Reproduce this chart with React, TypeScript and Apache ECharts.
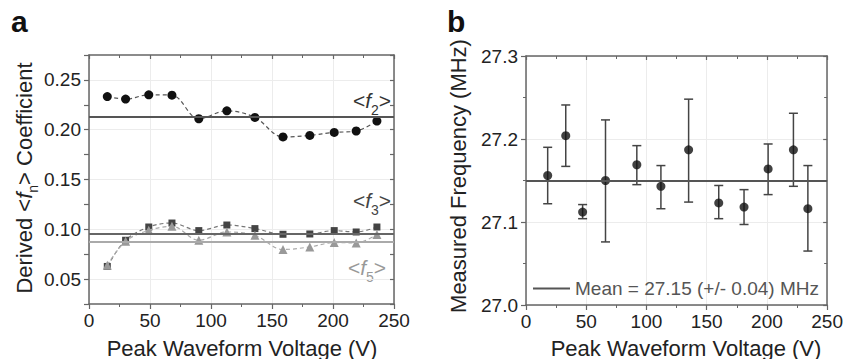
import React, { useEffect, useRef } from 'react';
import * as echarts from 'echarts';

// ---------- Panel a data ----------
const voltA = [15, 30, 49, 68, 90, 113, 136, 159, 181, 201, 219, 236];
const f2 = [0.2333, 0.2307, 0.235, 0.2347, 0.211, 0.219, 0.2123, 0.1927, 0.1943, 0.1973, 0.1987, 0.2087];
const f3 = [0.0627, 0.089, 0.1023, 0.1063, 0.0987, 0.1043, 0.1007, 0.095, 0.0953, 0.0987, 0.0973, 0.1023];
const f5 = [0.064, 0.088, 0.099, 0.103, 0.089, 0.0973, 0.094, 0.0797, 0.0823, 0.0867, 0.0863, 0.0947];
const meanF2 = 0.2133;
const meanF3 = 0.096;
const meanF5 = 0.088;

// ---------- Panel b data ----------
const voltB = [18, 33, 47, 66, 92, 112, 135, 160, 181, 201, 222, 234];
const freqB = [27.156, 27.204, 27.112, 27.15, 27.169, 27.143, 27.187, 27.123, 27.118, 27.164, 27.187, 27.116];
const hiB = [27.19, 27.241, 27.121, 27.223, 27.192, 27.168, 27.248, 27.144, 27.139, 27.194, 27.231, 27.168];
const loB = [27.122, 27.167, 27.104, 27.076, 27.145, 27.116, 27.124, 27.104, 27.097, 27.133, 27.143, 27.065];
const meanB = 27.15;
const meanLabel = 'Mean = 27.15 (+/- 0.04) MHz';

// ---------- Axis labels ----------
const xTitle = 'Peak Waveform Voltage (V)';
const yTitleBText = 'Measured Frequency (MHz)';

const FONT = "'Liberation Sans', Arial, Helvetica, sans-serif";
const FRAME = '#666';
const GRIDC = '#ececec';

function xAxes(gridIndex: number) {
  const common = {
    gridIndex,
    type: 'value',
    min: 0,
    max: 250,
    interval: 50,
  };
  return [
    {
      ...common,
      position: 'bottom',
      axisLine: { show: true, onZero: false, lineStyle: { color: FRAME, width: 1.5 } },
      axisTick: { show: true, length: 5, lineStyle: { color: FRAME, width: 1.2 } },
      minorTick: { show: true, splitNumber: 2, length: 3, lineStyle: { color: FRAME, width: 1 } },
      splitLine: { show: true, lineStyle: { color: GRIDC, width: 1 } },
      axisLabel: { fontSize: 19, color: '#222', fontFamily: FONT, margin: 7 },
    },
    {
      ...common,
      position: 'top',
      axisLine: { show: true, onZero: false, lineStyle: { color: FRAME, width: 1.5 } },
      axisTick: { show: true, inside: true, length: 4, lineStyle: { color: FRAME, width: 1.2 } },
      minorTick: { show: true, splitNumber: 2, length: 3, lineStyle: { color: FRAME, width: 1 } },
      splitLine: { show: false },
      axisLabel: { show: false },
    },
  ];
}

export default function App() {
  const ref = useRef<HTMLDivElement>(null);
  useEffect(() => {
    document.body.style.margin = '0';
    const chart = echarts.init(ref.current!, null, { renderer: 'svg' });

    const yAxes = [
      {
        gridIndex: 0,
        type: 'value',
        min: 0.025,
        max: 0.275,
        interval: 0.025,
        position: 'left',
        axisLine: { show: true, onZero: false, lineStyle: { color: FRAME, width: 1.5 } },
        axisTick: { show: true, length: 5, lineStyle: { color: FRAME, width: 1.2 } },
        splitLine: { show: true, lineStyle: { color: ['rgba(0,0,0,0)', GRIDC], width: 1 } },
        axisLabel: {
          fontSize: 19,
          color: '#222',
          fontFamily: FONT,
          margin: 8,
          formatter: (v: number) => (Math.round(v / 0.025) % 2 === 0 ? v.toFixed(2) : ''),
        },
      },
      {
        gridIndex: 0,
        type: 'value',
        min: 0.025,
        max: 0.275,
        interval: 0.025,
        position: 'right',
        axisLine: { show: true, onZero: false, lineStyle: { color: FRAME, width: 1.5 } },
        axisTick: { show: true, inside: true, length: 4, lineStyle: { color: FRAME, width: 1.2 } },
        splitLine: { show: false },
        axisLabel: { show: false },
      },
      {
        gridIndex: 1,
        type: 'value',
        min: 27.0,
        max: 27.3,
        interval: 0.1,
        position: 'left',
        axisLine: { show: true, onZero: false, lineStyle: { color: FRAME, width: 1.5 } },
        axisTick: { show: true, length: 5, lineStyle: { color: FRAME, width: 1.2 } },
        minorTick: { show: true, splitNumber: 2, length: 3, lineStyle: { color: FRAME, width: 1 } },
        splitLine: { show: true, lineStyle: { color: GRIDC, width: 1 } },
        axisLabel: {
          fontSize: 19,
          color: '#222',
          fontFamily: FONT,
          margin: 8,
          formatter: (v: number) => v.toFixed(1),
        },
      },
      {
        gridIndex: 1,
        type: 'value',
        min: 27.0,
        max: 27.3,
        interval: 0.1,
        position: 'right',
        axisLine: { show: true, onZero: false, lineStyle: { color: FRAME, width: 1.5 } },
        axisTick: { show: true, inside: true, length: 4, lineStyle: { color: FRAME, width: 1.2 } },
        minorTick: { show: true, splitNumber: 2, length: 3, lineStyle: { color: FRAME, width: 1 } },
        splitLine: { show: false },
        axisLabel: { show: false },
      },
    ];

    const meanLine = (value: number, color: string) => ({
      silent: true,
      symbol: 'none',
      precision: 6,
      label: { show: false },
      lineStyle: { color, width: 2, type: 'solid' },
      data: [{ yAxis: value }],
    });

    const fLabel = (sub: string, color: string, x: number, y: number) => ({
      type: 'text',
      x,
      y,
      style: {
        text: `{t|<}{i|f}{s|${sub}}{t|>}`,
        align: 'center',
        verticalAlign: 'middle',
        rich: {
          t: { fontSize: 21, fontFamily: FONT, fill: color },
          i: { fontSize: 21, fontFamily: FONT, fontStyle: 'italic', fill: color },
          s: { fontSize: 14, fontFamily: FONT, fill: color, padding: [20, 0, 0, 0] },
        },
      },
    });

    const option: any = {
      animation: false,
      backgroundColor: '#fff',
      grid: [
        { left: 89, right: 452, top: 55, bottom: 55 },
        { left: 526, right: 16, top: 56, bottom: 54 },
      ],
      xAxis: [...xAxes(0), ...xAxes(1)],
      yAxis: yAxes,
      legend: {
        data: [{ name: meanLabel, icon: 'rect' }],
        left: 533,
        top: 279,
        padding: 0,
        itemWidth: 37,
        itemHeight: 2,
        selectedMode: false,
        textStyle: { fontSize: 19, color: '#555', fontFamily: FONT },
      },
      series: [
        {
          type: 'line',
          name: 'f2',
          xAxisIndex: 0,
          yAxisIndex: 0,
          data: voltA.map((v, i) => [v, f2[i]]),
          symbol: 'circle',
          symbolSize: 9,
          smooth: 0.35,
          itemStyle: { color: '#111' },
          lineStyle: { color: '#555', width: 1.2, type: [4, 3] },
          markLine: meanLine(meanF2, '#555'),
          z: 3,
        },
        {
          type: 'line',
          name: 'f3',
          xAxisIndex: 0,
          yAxisIndex: 0,
          data: voltA.map((v, i) => [v, f3[i]]),
          symbol: 'rect',
          symbolSize: 7,
          smooth: 0.35,
          itemStyle: { color: '#444' },
          lineStyle: { color: '#777', width: 1.2, type: [4, 3] },
          markLine: meanLine(meanF3, '#666'),
          z: 3,
        },
        {
          type: 'line',
          name: 'f5',
          xAxisIndex: 0,
          yAxisIndex: 0,
          data: voltA.map((v, i) => [v, f5[i]]),
          symbol: 'triangle',
          symbolSize: 9,
          smooth: 0.35,
          itemStyle: { color: '#999' },
          lineStyle: { color: '#aaa', width: 1.2, type: [4, 3] },
          markLine: meanLine(meanF5, '#aaa'),
          z: 4,
        },
        {
          type: 'custom',
          name: 'err',
          xAxisIndex: 2,
          yAxisIndex: 2,
          data: voltB.map((v, i) => [v, loB[i], hiB[i]]),
          encode: { x: 0, y: [1, 2] },
          renderItem: (params: any, api: any) => {
            const x = api.value(0);
            const top = api.coord([x, api.value(2)]);
            const bot = api.coord([x, api.value(1)]);
            const hw = 4.5;
            const st = { stroke: '#444', lineWidth: 1.5 };
            return {
              type: 'group',
              children: [
                { type: 'line', shape: { x1: top[0], y1: top[1], x2: bot[0], y2: bot[1] }, style: st },
                { type: 'line', shape: { x1: top[0] - hw, y1: top[1], x2: top[0] + hw, y2: top[1] }, style: st },
                { type: 'line', shape: { x1: bot[0] - hw, y1: bot[1], x2: bot[0] + hw, y2: bot[1] }, style: st },
              ],
            };
          },
          z: 2,
        },
        {
          type: 'line',
          name: meanLabel,
          xAxisIndex: 2,
          yAxisIndex: 2,
          data: [],
          symbol: 'none',
          itemStyle: { color: '#555' },
          lineStyle: { color: '#555', width: 2 },
          markLine: meanLine(meanB, '#555'),
          z: 2,
        },
        {
          type: 'scatter',
          name: 'freq',
          xAxisIndex: 2,
          yAxisIndex: 2,
          data: voltB.map((v, i) => [v, freqB[i]]),
          symbol: 'circle',
          symbolSize: 9,
          itemStyle: { color: '#111' },
          z: 4,
        },
      ],
      graphic: [
        {
          type: 'text',
          x: 11,
          y: 21,
          style: { text: 'a', fontSize: 30, fontWeight: 'bold', fontFamily: FONT, fill: '#111', verticalAlign: 'middle' },
        },
        {
          type: 'text',
          x: 447,
          y: 21,
          style: { text: 'b', fontSize: 30, fontWeight: 'bold', fontFamily: FONT, fill: '#111', verticalAlign: 'middle' },
        },
        {
          type: 'text',
          x: 242,
          y: 348,
          style: { text: xTitle, fontSize: 22, fontFamily: FONT, fill: '#222', align: 'center', verticalAlign: 'middle' },
        },
        {
          type: 'text',
          x: 686,
          y: 348,
          style: { text: xTitle, fontSize: 22, fontFamily: FONT, fill: '#222', align: 'center', verticalAlign: 'middle' },
        },
        {
          type: 'text',
          x: 24,
          y: 178,
          rotation: Math.PI / 2,
          style: {
            text: '{t|Derived <}{i|f}{s|n}{t|> Coefficient}',
            align: 'center',
            verticalAlign: 'middle',
            rich: {
              t: { fontSize: 22, fontFamily: FONT, fill: '#222' },
              i: { fontSize: 22, fontFamily: FONT, fontStyle: 'italic', fill: '#222' },
              s: { fontSize: 14, fontFamily: FONT, fill: '#222', padding: [18, 0, 0, 0] },
            },
          },
        },
        {
          type: 'text',
          x: 458,
          y: 176,
          rotation: Math.PI / 2,
          style: { text: yTitleBText, fontSize: 22, fontFamily: FONT, fill: '#222', align: 'center', verticalAlign: 'middle' },
        },
        fLabel('2', '#333', 372, 100),
        fLabel('3', '#444', 372, 200),
        fLabel('5', '#999', 367, 267),
      ],
    };

    chart.setOption(option);
    return () => chart.dispose();
  }, []);

  return <div ref={ref} style={{ width: 846, height: 359 }} />;
}
